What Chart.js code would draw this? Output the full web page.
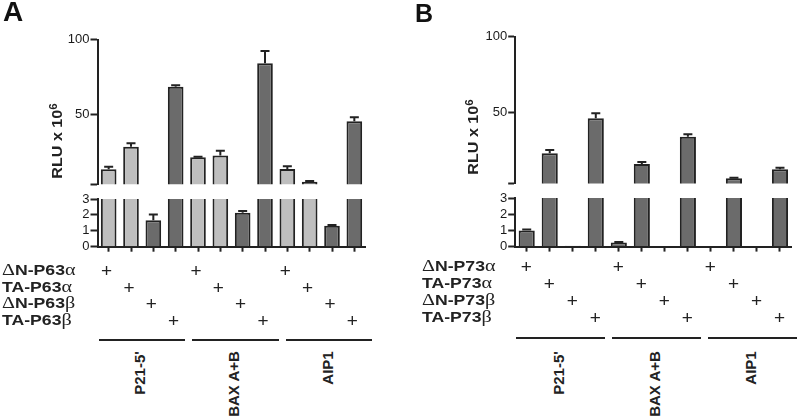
<!DOCTYPE html>
<html>
<head>
<meta charset="utf-8">
<script src="https://cdn.jsdelivr.net/npm/chart.js@4.4.1/dist/chart.umd.min.js"></script>
<style>
  body { margin: 0; background: #fff; }
  #fig { position: relative; width: 800px; height: 416px; overflow: hidden;
         font-family: "Liberation Sans", Arial, sans-serif; color: #222; }
  #fig canvas { position: absolute; }
  .t { position: absolute; white-space: nowrap; line-height: 1; }
  .gk { font-family: "Liberation Serif", serif; font-weight: normal; font-size: 16px; }
  .rule { position: absolute; height: 2px; background: #222; }
</style>
</head>
<body>
<div id="fig"></div>
<script>
// --- data (RLU x 10^6) ---
const promoters = ["P21-5'", "BAX A+B", "AIP1"];
const p63Rows = ["ΔN-P63α", "TA-P63α", "ΔN-P63β", "TA-P63β"];
const p73Rows = ["ΔN-P73α", "TA-P73α", "ΔN-P73β", "TA-P73β"];
// which row gets the "+" for each of the 12 lanes
const plusRow = [0, 1, 2, 3, 0, 1, 2, 3, 0, 1, 2, 3];

const p63Values = [13.1, 28.2, 1.67, 68.5, 21.1, 22.4, 2.14, 84.2, 13.3, 4.7, 1.31, 45.3];
const p63Errors = [1.7, 2.3, 0.35, 0.9, 0.4, 3.1, 0.11, 8.2, 1.8, 0.5, 0.05, 2.6];
const p73Values = [1.0, 23.0, 0.06, 46.1, 0.26, 15.9, 0, 33.9, 0, 6.4, 0, 12.4];
const p73Errors = [0.05, 2.1, 0, 3.3, 0.02, 1.3, 0, 1.6, 0, 0.4, 0, 1.0];

const upperTicks = [50, 100];
const lowerTicks = [0, 1, 2, 3];
const axisBreak = 3;
const axisTop = 100;

const INK = "#222";
const LIGHT = "#bebebe";
const DARK = "#6b6b6b";

Chart.defaults.font.family = '"Liberation Sans", Arial, sans-serif';

const fig = document.getElementById("fig");

// error bars (mean + SD, upward only)
const errorBarPlugin = {
  id: "errorBars",
  afterDatasetsDraw(chart, args, opts) {
    const y = chart.scales.y;
    const ctx = chart.ctx;
    const vals = chart.data.datasets[0].data;
    ctx.save();
    ctx.strokeStyle = INK;
    ctx.lineWidth = 2;
    chart.getDatasetMeta(0).data.forEach((bar, i) => {
      const v = vals[i], e = opts.errors[i];
      if (!e || v < y.min || v > y.max) return;
      const y0 = y.getPixelForValue(v);
      const y1 = y.getPixelForValue(v + e);
      ctx.beginPath();
      ctx.moveTo(bar.x, y0);
      ctx.lineTo(bar.x, y1);
      ctx.moveTo(bar.x - 4.5, y1);
      ctx.lineTo(bar.x + 4.5, y1);
      ctx.stroke();
    });
    ctx.restore();
  }
};

const panels = [
  {
    letter: "A", left: 0, letterX: 3, letterY: -2, letterSize: 28,
    rows: p63Rows, values: p63Values, errors: p63Errors,
    shade: i => (i % 4 < 2 ? LIGHT : DARK),
    yWidth: 97.5, padRight: 34.5,
    upper: { top: 39.7, bottom: 184.3 }, lower: { top: 199.3, bottom: 247 },
    titleX: 55.5, titleY: 141,
    rowLeft: 2, rowY: 269.8, rowStep: 16.7, plusShift: -2, ruleY: 339, ruleSpread: 1.05
  },
  {
    letter: "B", left: 400, letterX: 415, letterY: 0.7, letterSize: 25,
    rows: p73Rows, values: p73Values, errors: p73Errors,
    shade: () => DARK,
    yWidth: 115.2, padRight: 8.5,
    upper: { top: 36.7, bottom: 183.5 }, lower: { top: 198.4, bottom: 247 },
    titleX: 471.5, titleY: 136.7,
    rowLeft: 421.7, rowY: 265.7, rowStep: 17, plusShift: -0.5, ruleY: 336.7, ruleSpread: 1.04
  }
];

function makeSegment(panel, part) {
  const isUpper = part === "upper";
  const g = panel[part];
  const canvasTop = isUpper ? 0 : g.top - 14;
  const xAxisH = isUpper ? 0 : 8;
  const height = Math.round(isUpper ? g.bottom + 14 : g.bottom - canvasTop + xAxisH + 2);
  const padTop = g.top - canvasTop;
  const padBottom = height - (g.bottom - canvasTop) - xAxisH;

  const cv = document.createElement("canvas");
  cv.width = 400; cv.height = height;
  cv.style.left = panel.left + "px";
  cv.style.top = canvasTop + "px";
  cv.style.width = "400px";
  cv.style.height = height + "px";
  fig.appendChild(cv);

  const lanes = promoters.flatMap(p => panel.rows.map(r => p + " " + r));

  return new Chart(cv, {
    type: "bar",
    data: {
      labels: lanes,
      datasets: [{
        data: panel.values,
        backgroundColor: panel.values.map((v, i) => panel.shade(i)),
        borderColor: INK,
        borderWidth: 2,
        borderSkipped: "start",
        barPercentage: 0.7,
        categoryPercentage: 1,
        clip: 0
      }]
    },
    options: {
      responsive: false,
      animation: false,
      devicePixelRatio: 1,
      layout: { padding: { top: padTop, bottom: padBottom, left: 0, right: panel.padRight } },
      plugins: {
        legend: { display: false },
        tooltip: { enabled: false },
        errorBars: { errors: panel.errors }
      },
      scales: {
        x: {
          display: !isUpper,
          offset: true,
          grid: { display: true, drawOnChartArea: false, offset: false, tickLength: 5, tickWidth: 2, tickColor: INK },
          border: { display: true, color: INK, width: 2 },
          ticks: { display: false },
          afterFit(s) { s.height = xAxisH; }
        },
        y: {
          min: isUpper ? axisBreak : 0,
          max: isUpper ? axisTop : axisBreak,
          afterBuildTicks(s) {
            s.ticks = (isUpper ? [axisBreak, ...upperTicks] : lowerTicks).map(v => ({ value: v }));
          },
          ticks: {
            color: "#1a1a1a",
            font: { size: 13 },
            padding: 1,
            autoSkip: false,
            callback: v => (isUpper && v === axisBreak ? "" : String(v))
          },
          grid: { drawOnChartArea: false, tickLength: 7, tickWidth: 2, tickColor: INK },
          border: { display: true, color: INK, width: 2 },
          afterFit(s) { s.width = panel.yWidth; }
        }
      }
    },
    plugins: [errorBarPlugin]
  });
}

function addText(html, css) {
  const el = document.createElement("div");
  el.className = "t";
  el.innerHTML = html;
  Object.assign(el.style, css);
  fig.appendChild(el);
  return el;
}

const greek = s => s.replace(/([\u0370-\u03FF])/g, '<span class="gk">$1</span>');

panels.forEach(panel => {
  makeSegment(panel, "upper");
  const lower = makeSegment(panel, "lower");
  const xs = lower.scales.x;
  const step = xs.getPixelForValue(1) - xs.getPixelForValue(0);
  const laneX = i => panel.left + xs.getPixelForValue(i);

  // panel letter
  addText(panel.letter, {
    left: panel.letterX + "px", top: panel.letterY + "px",
    fontSize: panel.letterSize + "px", fontWeight: "bold", color: "#111"
  });

  // y axis title
  addText('RLU x 10<sup style="font-size:10px;vertical-align:5px">6</sup>', {
    left: panel.titleX + "px", top: panel.titleY + "px",
    fontSize: "14px", fontWeight: "bold",
    transform: "translate(-50%,-50%) rotate(-90deg) scaleX(1.15)"
  });

  // transfection table
  panel.rows.forEach((r, k) => {
    addText(greek(r), {
      left: panel.rowLeft + "px", top: (panel.rowY + k * panel.rowStep) + "px",
      fontSize: "14px", fontWeight: "bold",
      transformOrigin: "0 0", transform: "scaleX(1.26) translateY(-50%)"
    });
  });
  plusRow.forEach((k, i) => {
    addText("+", {
      left: (laneX(i) + panel.plusShift) + "px",
      top: (panel.rowY + k * panel.rowStep) + "px",
      fontSize: "19px", transform: "translate(-50%,-50%)"
    });
  });

  // promoter groups
  promoters.forEach((p, g) => {
    const x0 = panel.left + xs.left + 4 * g * step * panel.ruleSpread + 1;
    const w = 3.86 * step;
    const rule = document.createElement("div");
    rule.className = "rule";
    Object.assign(rule.style, { left: x0 + "px", top: (panel.ruleY) + "px", width: w + "px" });
    fig.appendChild(rule);

    const lab = addText(p, { fontSize: "15px", fontWeight: "bold" });
    const len = lab.offsetWidth;
    Object.assign(lab.style, {
      left: (x0 + w / 2 - 2.5) + "px",
      top: (351 + len / 2) + "px",
      transform: "translate(-50%,-50%) rotate(-90deg)"
    });
  });
});
</script>
</body>
</html>
